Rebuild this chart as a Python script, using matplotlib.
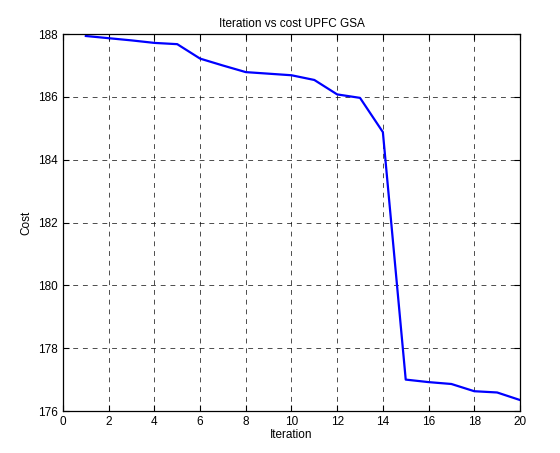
import matplotlib.pyplot as plt

plt.rcParams['font.family'] = ['Liberation Sans', 'DejaVu Sans']

# iteration / cost values
iterations = list(range(1, 21))
cost = [187.94, 187.87, 187.80, 187.72, 187.68, 187.22, 187.00, 186.79, 186.74, 186.69,
        186.54, 186.08, 185.97, 184.88, 177.00, 176.92, 176.86, 176.63, 176.59, 176.35]

x_ticks = list(range(0, 21, 2))
y_ticks = list(range(176, 189, 2))

fig = plt.figure(figsize=(5.6, 4.53), dpi=100)
ax = fig.add_axes([0.1125, 0.0927, 0.816, 0.832])

ax.plot(iterations, cost, color='#0000ff', linewidth=1.6)

ax.set_xlim(0, 20)
ax.set_ylim(176, 188)
ax.set_xticks(x_ticks)
ax.set_yticks(y_ticks)
ax.tick_params(direction='in', length=4, labelsize=8.5, width=0.8, top=True, right=True)
ax.grid(True, color='black', linestyle=(0, (5, 5)), linewidth=0.7, alpha=0.7)
for s in ax.spines.values():
    s.set_linewidth(0.9)

ax.set_title('Iteration vs cost UPFC GSA', fontsize=8.5, pad=5)
ax.set_xlabel('Iteration', fontsize=8.5, labelpad=1)
ax.set_ylabel('Cost', fontsize=8.5, labelpad=4)

fig.savefig('out.png', dpi=100)
